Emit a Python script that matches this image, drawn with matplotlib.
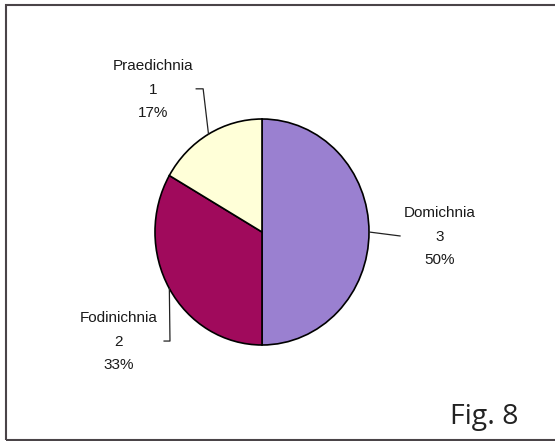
import numpy as np
import matplotlib.pyplot as plt
from matplotlib.patches import Rectangle

categories = ["Domichnia", "Fodinichnia", "Praedichnia"]
counts = [3, 2, 1]
colors = ["#9a80d0", "#a00a5c", "#ffffd8"]

# label text centres (pie units) and leader elbows, per slice
label_pos = [(1.66, -0.04), (-1.34, -0.97), (-1.02, 1.26)]
elbows = [[(1.29, -0.035)],
          [(-0.86, -0.965), (-0.915, -0.965)],
          [(-0.55, 1.267), (-0.615, 1.267)]]

fig = plt.figure(figsize=(5.55, 4.41), dpi=100)
fig.patch.set_facecolor("white")

# outer frame (right edge runs off the picture)
fig.add_artist(Rectangle((6 / 555, 1 / 441), 1.2, 435 / 441, transform=fig.transFigure,
                         fill=False, edgecolor="#4a4448", linewidth=1.5))

ax = fig.add_axes([0, 0, 1, 1])
wedges, _ = ax.pie(counts, colors=colors, startangle=90, counterclock=False,
                   wedgeprops=dict(edgecolor="black", linewidth=1.2))

# pixel-based scaling: centre (262,232), rx 107, ry 113
cx, cy, rx, ry = 262, 232, 107, 113
ax.set_aspect("auto")
ax.set_xlim(-cx / rx, (555 - cx) / rx)
ax.set_ylim(-(441 - cy) / ry, cy / ry)
ax.axis("off")

total = sum(counts)
for w, name, n, pos, elb in zip(wedges, categories, counts, label_pos, elbows):
    mid = np.deg2rad((w.theta1 + w.theta2) / 2)
    pts = [(np.cos(mid), np.sin(mid))] + elb
    xs, ys = zip(*pts)
    ax.plot(xs, ys, color="#222222", linewidth=0.9)
    ax.text(pos[0], pos[1], f"{name}\n{n}\n{round(100 * n / total)}%",
            ha="center", va="center", fontsize=11, family="Liberation Sans",
            linespacing=1.85, color="#1a1a1a")

fig.text(484 / 555, 1 - 417 / 441, "Fig. 8", ha="center", va="center",
         fontsize=20.5, family="Open Sans", color="#222222")

fig.savefig("out.png", dpi=100)
